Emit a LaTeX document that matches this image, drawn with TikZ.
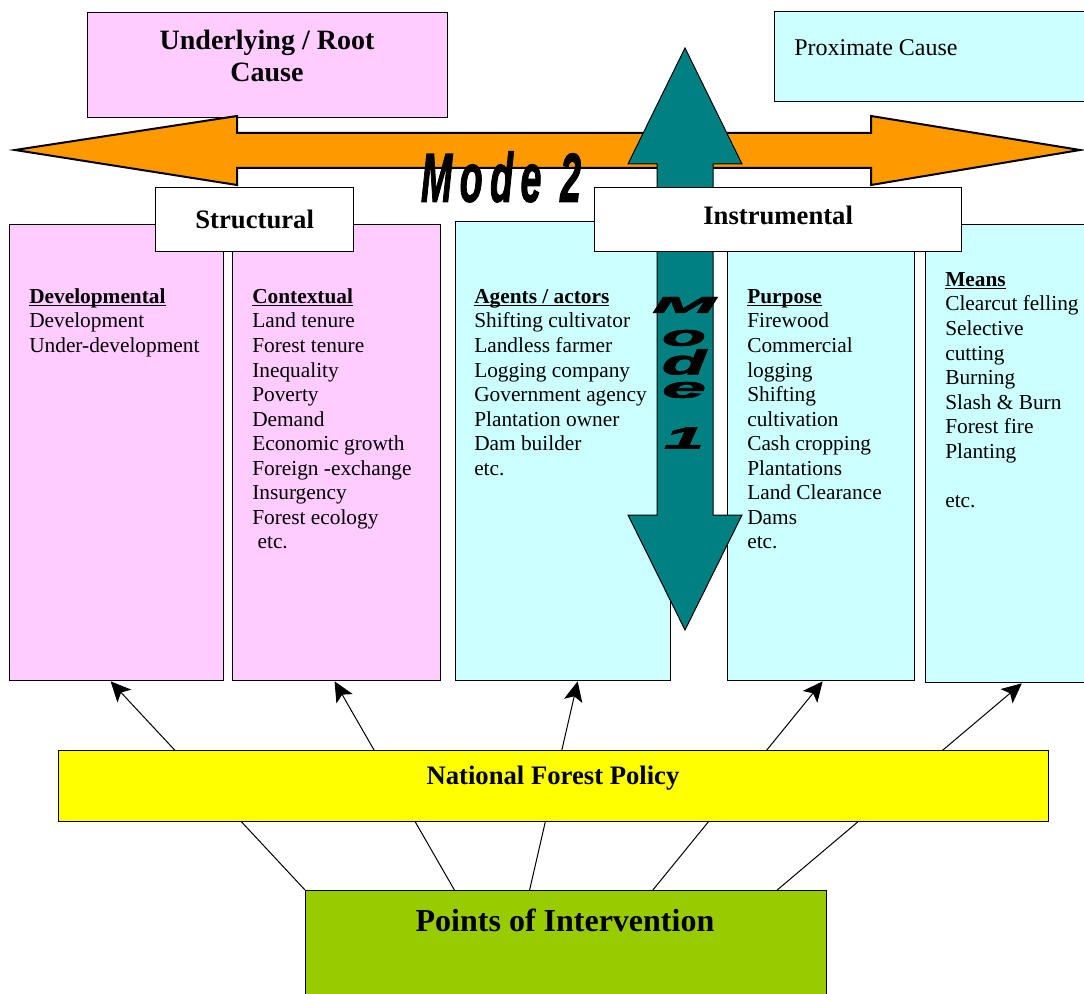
\documentclass[tikz,border=0pt]{standalone}
\usepackage{fontspec}
\setmainfont{Liberation Serif}
\newfontfamily\modefont[FakeBold=2]{Liberation Sans}
\usepackage{graphicx}
\usetikzlibrary{arrows.meta,calc}

\definecolor{rootpink}{HTML}{FFCCFF}
\definecolor{proxcyan}{HTML}{CCFFFF}
\definecolor{policyyellow}{HTML}{FFFF00}
\definecolor{pointgreen}{HTML}{99CC00}
\definecolor{modeorange}{HTML}{FF9900}
\definecolor{modeteal}{HTML}{008080}

% bold heading with a rule just under the baseline
\newcommand\listhead[1]{\setbox0\hbox{\textbf{#1}}\rlap{\rule[-2pt]{\wd0}{0.8pt}}\box0}

\tikzset{
  panel/.style 2 args={draw, line width=1pt, anchor=north west, inner sep=0pt,
    minimum width=#1*0.75pt, minimum height=#2*0.75pt},
  listtext/.style={anchor=north west, align=left, inner sep=0pt, font=\fontsize{16}{18.4}\selectfont},
  headtext/.style={font=\fontsize{20}{24}\selectfont\bfseries},
  link/.style={-{Stealth[length=15pt,width=14pt,inset=3.5pt]}, line width=0.75pt},
}

\begin{document}
\begin{tikzpicture}[x=0.75pt, y=-0.75pt]
\useasboundingbox (0,0) rectangle (1084,994);

% cause headings
\node[panel={360}{105}, fill=rootpink] (root) at (87,12) {};
\node[font=\fontsize{21}{24}\selectfont\bfseries, align=center] (roottext) at (267,56) {Underlying / Root\\Cause};
\node[panel={320}{90}, fill=proxcyan] (prox) at (774,11) {};
\node[anchor=base west, inner sep=0pt, font=\fontsize{18}{21}\selectfont] (proxtext) at (794,56) {Proximate Cause};

% mode 2 double arrow
\filldraw[fill=modeorange, line width=1.5pt] (15,150) -- (237,116) -- (237,133) -- (871,133) -- (871,116)
  -- (1080,150) -- (871,185) -- (871,168) -- (237,168) -- (237,185) -- cycle;
\node (mode2) at (501,177) {\resizebox{120pt}{37.5pt}{\modefont\bfseries\itshape M\kern2pt o\kern2pt d\kern2pt e\kern5pt 2}};

% the five columns
\node[panel={214}{456}, fill=rootpink] (dev) at (9,224) {};
\node[panel={208}{456}, fill=rootpink] (ctx) at (232,224) {};
\node[panel={215}{459}, fill=proxcyan] (agents) at (455,221) {};
\node[panel={187}{459}, fill=proxcyan] (purpose) at (727,221) {};
\node[panel={175}{458}, fill=proxcyan] (means) at (925,224) {};

\node[listtext] (devtext) at (29,286) {\strut\listhead{Developmental}\\Development\\Under-development};
\node[listtext] (ctxtext) at (252,286) {\strut\listhead{Contextual}\\Land tenure\\Forest tenure\\Inequality\\Poverty\\Demand\\Economic growth\\Foreign -exchange\\Insurgency\\Forest ecology\\\hspace*{0.25em}etc.};
\node[listtext] (agentstext) at (474,286) {\strut\listhead{Agents / actors}\\Shifting cultivator\\Landless farmer\\Logging company\\Government agency\\Plantation owner\\Dam builder\\etc.};
\node[listtext] (purposetext) at (747,286) {\strut\listhead{Purpose}\\Firewood\\Commercial\\logging\\Shifting\\cultivation\\Cash cropping\\Plantations\\Land Clearance\\Dams\\etc.};
\node[listtext] (meanstext) at (945,269) {\strut\listhead{Means}\\Clearcut felling\\Selective\\cutting\\Burning\\Slash \& Burn\\Forest fire\\Planting\\[18.4pt]etc.};

% mode 1 double arrow
\filldraw[fill=modeteal, line width=0.75pt] (685,48) -- (742,164) -- (713,164) -- (713,515) -- (742,515)
  -- (685,630) -- (628,515) -- (657,515) -- (657,164) -- (628,164) -- cycle;
\foreach \ch/\y/\w/\h in {M/305/48/12, o/338/33/12, d/362/33/19, e/390/33/12, 1/438/30/16}
  \node[inner sep=0pt] (mode1\ch) at (684,\y) {\resizebox*{\w pt}{\h pt}{\modefont\bfseries\itshape\ch}};

\node[panel={198}{64}, fill=white, headtext] (structural) at (155,187) {Structural};
\node[panel={367}{64}, fill=white, headtext, text depth=6pt] (instrumental) at (594,187) {Instrumental};

% policy links
\node[panel={521}{120}, fill=pointgreen] (poi) at (305,890) {};
\node[font=\fontsize{24}{28}\selectfont\bfseries] (poitext) at (565,920) {Points of Intervention};
\draw[link] (poi.north west) -- ($(dev.south west)!0.472!(dev.south east)$);
\draw[link] ($(poi.north west)!0.286!(poi.north east)$) -- ($(ctx.south west)!0.49!(ctx.south east)$);
\draw[link] ($(poi.north west)!0.43!(poi.north east)$) -- ($(agents.south west)!0.567!(agents.south east)$);
\draw[link] ($(poi.north west)!0.666!(poi.north east)$) -- ($(purpose.south west)!0.508!(purpose.south east)$);
\draw[link] ($(poi.north west)!0.904!(poi.north east)$) -- ($(means.south west)!0.549!(means.south east)$);
\node[panel={990}{71}, fill=policyyellow] (policy) at (58,750) {};
\node[headtext] (policytext) at (553,778) {National Forest Policy};
\end{tikzpicture}
\end{document}
